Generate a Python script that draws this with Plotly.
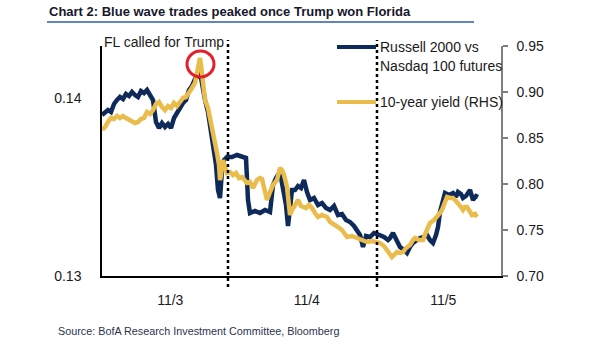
import plotly.graph_objects as go

# ---- data (hours since 11/3 00:00) ----
navy_px = [102,105,108,111,114,117,120,123,126,129,132,135,138,141,144,147,150,153,156,159,162,165,168,171,174,177,180,183,186,189,192,195,198,200,202,205,208,211,214,216,218,220,222,224,227,232,237,242,246,248,250,255,260,265,270,273,276,280,283,286,288,290,292,295,298,301,304,307,310,314,318,322,326,330,334,338,342,346,350,354,357,360,363,366,370,374,377,380,384,388,390,393,396,400,404,407,410,413,417,420,424,427,430,433,436,438,440,442,445,449,453,456,458,461,463,466,470,473,476,478]
navy_py = [115,113,110,112,104,100,97,99,94,96,92,95,97,91,93,90,96,100,122,128,123,127,124,128,118,112,108,103,100,90,86,79,76,72,85,100,112,130,150,165,190,198,170,160,157,157,155,157,158,200,213,211,213,210,212,185,178,172,190,205,226,210,190,190,186,188,180,192,200,198,205,203,208,210,206,215,214,220,222,226,230,235,247,236,237,233,234,235,237,240,238,233,240,247,250,253,247,243,240,238,237,235,240,243,235,227,212,203,193,195,193,197,192,194,198,196,190,200,196,197]

gold_px = [102,105,108,111,114,117,120,123,126,129,132,135,138,141,144,147,150,153,156,159,162,165,168,171,174,177,180,183,186,189,192,195,197,199,200,201,203,205,208,210,213,215,217,219,220,221,223,225,227,230,233,236,239,242,245,247,250,253,257,260,262,265,267,270,273,277,280,282,284,287,290,292,295,298,301,303,306,309,312,315,318,322,327,330,334,338,342,345,347,352,357,362,367,372,377,380,384,387,390,392,395,397,400,403,406,410,413,415,419,423,426,430,434,437,440,442,445,447,450,453,456,458,461,463,465,467,470,472,475,477]
gold_py = [130,127,122,118,119,116,118,116,118,120,121,123,122,119,118,112,114,110,104,102,107,110,106,108,103,106,102,98,97,93,88,83,72,60,58,65,80,100,108,117,130,140,153,165,180,175,160,167,173,172,175,173,178,177,180,183,182,188,180,178,179,192,200,192,185,180,168,170,175,187,215,210,205,200,206,207,208,205,208,213,217,215,217,222,224,227,230,234,237,236,238,240,242,241,242,243,246,250,255,257,254,252,253,252,248,245,240,238,240,240,232,223,220,217,213,210,200,197,198,198,201,203,207,210,207,207,212,215,214,217]

PX0, PX_PER_HOUR = 102.0, 136.5 / 24.0
navy_hours = [(p - PX0) / PX_PER_HOUR for p in navy_px]
gold_hours = [(p - PX0) / PX_PER_HOUR for p in gold_px]
# Russell 2000 / Nasdaq 100 ratio (LHS)
russell_vs_nasdaq = [0.13 + (276 - v) / 17800.0 for v in navy_py]
# 10-year yield (RHS)
ten_year_yield = [0.70 + (276 - v) / 920.0 for v in gold_py]

tick_hours = [12, 36, 60]
tick_labels = ["11/3", "11/4", "11/5"]
fl_called_hour = 22.15
second_line_hour = 48.35

NAVY = "#0E2A5A"
GOLD = "#E9BC4C"
FONT = "Liberation Sans, Arial, sans-serif"

fig = go.Figure()
fig.add_trace(go.Scatter(x=navy_hours, y=russell_vs_nasdaq, mode="lines",
                         line=dict(color=NAVY, width=4.5), yaxis="y",
                         showlegend=False))
fig.add_trace(go.Scatter(x=gold_hours, y=ten_year_yield, mode="lines",
                         line=dict(color=GOLD, width=4.5), yaxis="y2",
                         showlegend=False))

W, H = 605, 341
L, R, T, B = 102, 104, 46, 65
pw, ph = W - L - R, H - T - B

def px(x):
    return (x - L) / pw

def py(y):
    return (H - B - y) / ph

shapes = []
for hx in [fl_called_hour, second_line_hour]:
    shapes.append(dict(type="line", xref="x", yref="paper", x0=hx, x1=hx,
                       y0=py(287), y1=py(40),
                       line=dict(color="black", width=2.5, dash="dot")))
# red circle
shapes.append(dict(type="circle", xref="paper", yref="paper",
                   x0=px(187), x1=px(214), y0=py(77), y1=py(51),
                   line=dict(color="#E3202A", width=3)))
# legend lines
shapes.append(dict(type="line", xref="paper", yref="paper", x0=px(337), x1=px(376),
                   y0=py(47), y1=py(47), line=dict(color=NAVY, width=4)))
shapes.append(dict(type="line", xref="paper", yref="paper", x0=px(337), x1=px(376),
                   y0=py(102), y1=py(102), line=dict(color=GOLD, width=4)))
# title underline
shapes.append(dict(type="line", xref="paper", yref="paper", x0=px(47), x1=px(474),
                   y0=py(22), y1=py(22), line=dict(color="#2D5DA8", width=1.5)))

annotations = [
    dict(text="<b>Chart 2: Blue wave trades peaked once Trump won Florida</b>",
         xref="paper", yref="paper", x=px(47), y=py(12), xanchor="left", yanchor="middle",
         showarrow=False, font=dict(family=FONT, size=13, color="#16182C")),
    dict(text="FL called for Trump", xref="paper", yref="paper", x=px(102), y=py(42),
         xanchor="left", yanchor="middle", showarrow=False,
         font=dict(family=FONT, size=14, color="#1a1a1a")),
    dict(text="Russell 2000 vs", xref="paper", yref="paper", x=px(378), y=py(47),
         xanchor="left", yanchor="middle", showarrow=False,
         font=dict(family=FONT, size=14, color="#1a1a1a")),
    dict(text="Nasdaq 100 futures", xref="paper", yref="paper", x=px(378), y=py(66),
         xanchor="left", yanchor="middle", showarrow=False,
         font=dict(family=FONT, size=14, color="#1a1a1a")),
    dict(text="10-year yield (RHS)", xref="paper", yref="paper", x=px(378), y=py(102),
         xanchor="left", yanchor="middle", showarrow=False,
         font=dict(family=FONT, size=14, color="#1a1a1a")),
    dict(text="Source: BofA Research Investment Committee, Bloomberg", xref="paper",
         yref="paper", x=px(56), y=py(331), xanchor="left", yanchor="middle",
         showarrow=False, font=dict(family=FONT, size=10.8, color="#2B3350")),
]

fig.update_layout(
    width=W, height=H,
    margin=dict(l=L, r=R, t=T, b=B, pad=0),
    paper_bgcolor="white", plot_bgcolor="white",
    font=dict(family=FONT, size=14, color="#1a1a1a"),
    xaxis=dict(range=[0, pw / PX_PER_HOUR], tickvals=tick_hours, ticktext=tick_labels,
               showgrid=False, zeroline=False, showline=True, linecolor="black",
               linewidth=1.5, ticks="", ticklabelstandoff=10, fixedrange=True),
    yaxis=dict(range=[0.13, 0.13 + ph / 17800.0], tickvals=[0.13, 0.14],
               ticktext=["0.13", "0.14"], showgrid=False, zeroline=False,
               showline=True, linecolor="black", linewidth=1.5, ticks="",
               ticklabelstandoff=16),
    yaxis2=dict(range=[0.70, 0.95], overlaying="y", side="right", dtick=0.05,
                tickformat=".2f", showgrid=False, zeroline=False, showline=True,
                linecolor="#7f7f7f", linewidth=1.5, ticks="outside", ticklen=5,
                tickcolor="#7f7f7f", tickwidth=1.5, ticklabelstandoff=6),
    shapes=shapes, annotations=annotations, showlegend=False,
)

fig.write_html("out.html", config={"displayModeBar": False})
